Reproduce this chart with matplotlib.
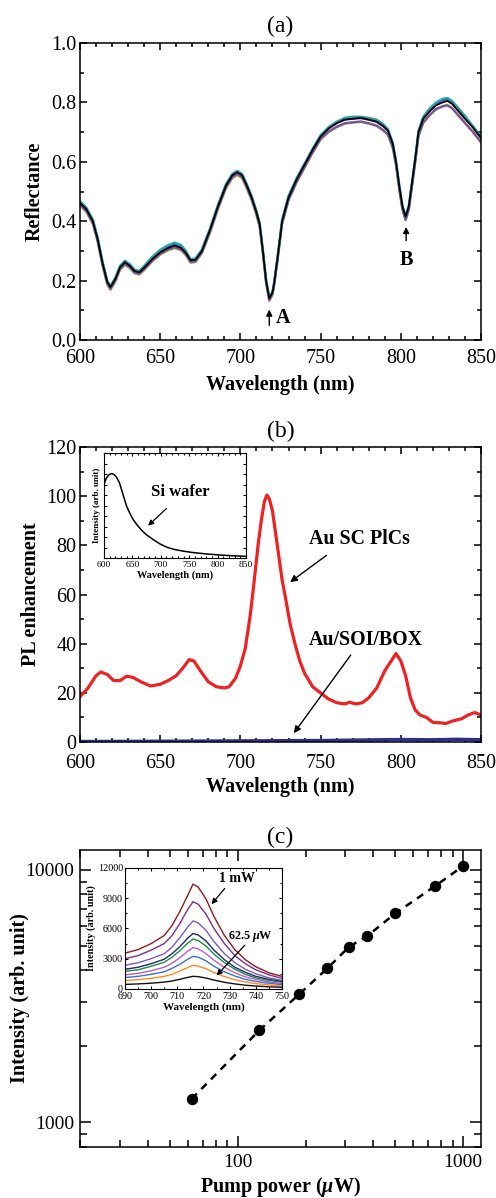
import numpy as np
import matplotlib
matplotlib.use("Agg")
from matplotlib import pyplot as plt
from matplotlib.ticker import MultipleLocator, LogLocator, NullFormatter, FixedLocator, FormatStrFormatter

plt.rcParams['font.family'] = ['Liberation Serif', 'DejaVu Serif']
plt.rcParams['mathtext.fontset'] = 'custom'
plt.rcParams['mathtext.it'] = 'Liberation Serif:bold:italic'
plt.rcParams['mathtext.rm'] = 'Liberation Serif:bold'

# ---- (a) reflectance spectra ----
wl_a = [600, 604, 608, 611, 614, 617, 619, 622, 625, 628, 631, 634, 637, 640, 645, 650, 655, 659, 663, 666,
        669, 672, 676, 681, 686, 691, 695, 698, 701, 704, 707, 710, 712, 714, 716, 718, 720, 721, 723, 726,
        730, 735, 740, 745, 750, 755, 760, 765, 770, 775, 780, 785, 789, 792, 795, 797, 799, 801, 803, 805,
        807, 809, 811, 814, 818, 822, 826, 829, 832, 836, 840, 845, 850]
refl_black = [.462, .44, .40, .34, .26, .195, .178, .205, .245, .262, .25, .232, .228, .243, .272, .295, .31, .318, .31, .293,
              .268, .27, .30, .37, .45, .52, .555, .565, .555, .52, .48, .43, .39, .30, .20, .14, .16, .19, .27, .40,
              .48, .54, .59, .64, .685, .712, .73, .742, .745, .748, .742, .735, .72, .705, .66, .60, .52, .45, .415, .45,
              .53, .61, .70, .745, .77, .79, .80, .805, .795, .77, .745, .715, .68]
refl_teal = [.468, .446, .406, .346, .266, .2, .182, .21, .25, .267, .256, .237, .233, .25, .28, .304, .32, .328, .32, .3,
             .272, .275, .305, .375, .455, .525, .56, .57, .56, .525, .485, .435, .395, .305, .205, .143, .163, .194, .275, .405,
             .485, .545, .594, .644, .69, .717, .735, .748, .752, .752, .748, .742, .727, .71, .664, .604, .524, .454, .418, .454,
             .534, .614, .705, .752, .78, .8, .812, .815, .805, .78, .755, .72, .685]
refl_purple = [.456, .434, .394, .334, .254, .19, .172, .2, .24, .256, .245, .227, .223, .238, .267, .29, .305, .312, .305, .288,
               .263, .265, .295, .364, .444, .514, .549, .559, .549, .514, .474, .424, .384, .294, .195, .135, .155, .185, .264, .393,
               .472, .532, .582, .632, .677, .702, .718, .73, .733, .736, .73, .722, .707, .692, .648, .59, .51, .44, .405, .44,
               .52, .6, .688, .733, .758, .778, .786, .79, .78, .755, .73, .7, .665]
refl_olive = [.452, .43, .39, .33, .25, .186, .169, .196, .236, .253, .242, .224, .22, .235, .264, .287, .302, .309, .302, .285,
              .26, .262, .292, .36, .44, .51, .545, .555, .545, .51, .47, .42, .38, .29, .19, .131, .151, .181, .26, .39,
              .47, .53, .58, .63, .675, .7, .716, .728, .732, .734, .728, .72, .705, .69, .646, .588, .508, .438, .403, .438,
              .518, .598, .686, .73, .756, .776, .788, .792, .782, .757, .732, .702, .667]
refl_blue = [.464, .442, .402, .342, .262, .197, .18, .207, .247, .264, .252, .234, .23, .247, .276, .3, .316, .323, .315, .297,
             .27, .272, .302, .372, .452, .522, .557, .567, .557, .522, .482, .432, .392, .302, .202, .142, .162, .192, .272, .402,
             .482, .542, .592, .642, .687, .714, .73, .742, .745, .747, .742, .735, .72, .705, .66, .6, .52, .45, .415, .45,
             .53, .61, .7, .748, .775, .795, .808, .81, .8, .775, .75, .718, .682]

# ---- (b) PL enhancement ----
wl_b = [600, 605, 610, 613, 617, 621, 625, 629, 633, 638, 644, 650, 655, 660, 664, 668, 671, 675, 680, 685,
        690, 693, 697, 700, 703, 706, 708, 711, 713, 715, 716.5, 718, 720, 723, 726, 728, 731, 734, 737, 740,
        745, 750, 755, 760, 765, 768, 772, 776, 780, 785, 790, 794, 797, 800, 803, 806, 809, 812, 816, 820,
        825, 828, 832, 835, 838, 842, 846, 850]
pl_au_sc = [18.5, 22, 27, 28.5, 27.5, 25, 25, 26.8, 26.3, 24.5, 22.8, 23.5, 25, 27, 30, 33.5, 33, 29, 24.5, 22.5,
            22, 22.5, 26, 31, 38, 51, 62, 80, 90, 98, 100.5, 99, 94, 80, 66, 59, 48, 40, 33, 28,
            22.5, 20, 17.5, 16, 15.5, 16.2, 15.5, 16, 18, 22, 29, 33, 36, 33, 27, 18, 13, 11, 10, 8,
            7.8, 7.5, 8.5, 9, 9.5, 11, 12, 11]
wl_box = [600, 650, 700, 750, 800, 820, 835, 850]
pl_box = [0.2, 0.3, 0.45, 0.6, 1.0, 0.9, 1.1, 0.9]

si_wl = [600, 604, 608, 613, 618, 622, 627, 631, 636, 640, 646, 652, 659, 667, 675, 683, 691, 700, 712, 725,
         740, 757, 778, 800, 825, 850]
si_int = [0.70, 0.76, 0.79, 0.805, 0.795, 0.77, 0.72, 0.65, 0.56, 0.49, 0.42, 0.36, 0.31, 0.26, 0.22, 0.19, 0.16, 0.13, 0.10, 0.08,
          0.065, 0.052, 0.04, 0.03, 0.022, 0.016]

# ---- (c) pump power dependence ----
power = [62.5, 125, 187.5, 250, 312.5, 375, 500, 750, 1000]
intensity = [1240, 2320, 3220, 4080, 4970, 5470, 6730, 8630, 10370]

wl_c = [690, 695, 700, 705, 708, 711, 714, 716, 718, 721, 724, 728, 732, 736, 740, 745, 750]
spec_1000 = [3550, 3900, 4500, 5300, 6300, 7700, 9300, 10400, 10100, 8900, 7200, 5300, 3900, 2900, 2200, 1600, 1250]
spec_750 = [3000, 3300, 3850, 4500, 5300, 6500, 7900, 8650, 8400, 7400, 6000, 4500, 3300, 2500, 1900, 1400, 1050]
spec_500 = [2350, 2600, 3000, 3500, 4150, 5100, 6150, 6750, 6550, 5800, 4700, 3500, 2600, 1950, 1500, 1100, 850]
spec_375 = [1950, 2150, 2500, 2950, 3500, 4200, 5050, 5500, 5350, 4750, 3850, 2900, 2150, 1650, 1250, 950, 750]
spec_312 = [1750, 1900, 2250, 2650, 3150, 3800, 4550, 4950, 4800, 4250, 3450, 2600, 1950, 1450, 1100, 850, 650]
spec_250 = [1400, 1550, 1800, 2150, 2550, 3100, 3750, 4100, 3980, 3500, 2850, 2150, 1600, 1200, 950, 700, 550]
spec_187 = [1130, 1250, 1450, 1700, 2050, 2450, 2950, 3230, 3150, 2780, 2250, 1700, 1280, 950, 750, 560, 430]
spec_125 = [830, 920, 1050, 1250, 1450, 1780, 2130, 2330, 2270, 2000, 1620, 1230, 920, 690, 530, 400, 300]
spec_62 = [450, 500, 570, 680, 790, 960, 1150, 1250, 1220, 1080, 880, 660, 500, 370, 290, 210, 160]
spec_colors = ['#8b1c1c', '#7d2e8e', '#7a5cc4', '#1f2a6b', '#1e8a48', '#c25bc2', '#3c6fd2', '#ff8a1a', '#111111']

TICK = 14.5
LAB = 14.5
TITLE = 17


def style_axes(ax, major=1.1, size=TICK, ml=5, mn=3, xpad=6.5, ypad=2.5):
    ax.tick_params(which='both', direction='in', top=True, right=True, labelsize=size, width=major)
    ax.tick_params(which='major', length=ml)
    ax.tick_params(which='minor', length=mn)
    ax.tick_params(axis='x', pad=xpad)
    ax.tick_params(axis='y', pad=ypad)
    for s in ax.spines.values():
        s.set_linewidth(major)


fig = plt.figure(figsize=(4.96, 11.98), dpi=100)

# (a)
ax1 = fig.add_axes([0.1613, 0.7162, 0.8085, 0.2479])
for vals, c in zip([refl_olive, refl_purple, refl_blue, refl_teal],
                   ['#9ab33c', '#7d4fa3', '#3f5cc0', '#2aa3a8']):
    ax1.plot(wl_a, vals, color=c, lw=1.6)
ax1.plot(wl_a, refl_black, color='black', lw=1.3)
ax1.set_xlim(600, 850)
ax1.set_ylim(0, 1.0)
ax1.xaxis.set_major_locator(MultipleLocator(50))
ax1.xaxis.set_minor_locator(MultipleLocator(10))
ax1.yaxis.set_major_locator(MultipleLocator(0.2))
ax1.yaxis.set_minor_locator(MultipleLocator(0.1))
ax1.yaxis.set_major_formatter(FormatStrFormatter('%.1f'))
style_axes(ax1)
ax1.set_xlabel('Wavelength (nm)', fontsize=LAB, fontweight='bold', labelpad=5)
ax1.set_ylabel('Reflectance', fontsize=LAB, fontweight='bold', labelpad=5)
ax1.set_title('(a)', fontsize=TITLE, pad=8)
ax1.annotate('', xy=(718, 0.112), xytext=(718, 0.04),
             arrowprops=dict(arrowstyle='-|>', color='black', lw=1, mutation_scale=9))
ax1.text(722, 0.075, 'A', fontsize=14.5, fontweight='bold', va='center')
ax1.annotate('', xy=(803.3, 0.39), xytext=(803.3, 0.325),
             arrowprops=dict(arrowstyle='-|>', color='black', lw=1, mutation_scale=9))
ax1.text(803.6, 0.27, 'B', fontsize=14.5, fontweight='bold', va='center', ha='center')

# (b)
ax2 = fig.add_axes([0.1613, 0.3806, 0.8085, 0.2462])
ax2.plot(wl_box, pl_box, color='#2b2f8f', lw=2.5)
ax2.plot(wl_b, pl_au_sc, color='#ee2222', lw=2.3)
ax2.set_xlim(600, 850)
ax2.set_ylim(0, 120)
ax2.xaxis.set_major_locator(MultipleLocator(50))
ax2.xaxis.set_minor_locator(MultipleLocator(10))
ax2.yaxis.set_major_locator(MultipleLocator(20))
ax2.yaxis.set_minor_locator(MultipleLocator(10))
style_axes(ax2, xpad=8.5)
ax2.set_xlabel('Wavelength (nm)', fontsize=LAB, fontweight='bold', labelpad=3)
ax2.set_ylabel('PL enhancement', fontsize=LAB, fontweight='bold', labelpad=4)
ax2.set_title('(b)', fontsize=TITLE, pad=7)
ax2.text(742.7, 82.7, 'Au SC PlCs', fontsize=14.3, fontweight='bold', va='center')
ax2.annotate('', xy=(729.6, 64.4), xytext=(755, 76.6),
             arrowprops=dict(arrowstyle='-|>', color='black', lw=1, mutation_scale=10))
ax2.text(742.7, 41.4, 'Au/SOI/BOX', fontsize=14.3, fontweight='bold', va='center')
ax2.annotate('', xy=(732.3, 2.7), xytext=(769.8, 36.3),
             arrowprops=dict(arrowstyle='-|>', color='black', lw=1, mutation_scale=10))

ins_b = fig.add_axes([0.2097, 0.5342, 0.2863, 0.0876])
ins_b.plot(si_wl, si_int, color='black', lw=1.1)
ins_b.set_xlim(600, 850)
ins_b.set_ylim(0, 1)
ins_b.xaxis.set_major_locator(MultipleLocator(50))
ins_b.xaxis.set_minor_locator(MultipleLocator(10))
ins_b.yaxis.set_major_locator(MultipleLocator(0.1))
ins_b.yaxis.set_major_formatter(NullFormatter())
style_axes(ins_b, major=0.8, size=6.8, ml=2.5, mn=1.5, xpad=2, ypad=1.5)
ins_b.set_xlabel('Wavelength (nm)', fontsize=7.4, fontweight='bold', labelpad=1)
ins_b.set_ylabel('Intensity (arb. unit)', fontsize=6.5, fontweight='bold', labelpad=1)
ins_b.text(734, 0.63, 'Si wafer', fontsize=12, fontweight='bold', ha='center', va='center')
ins_b.annotate('', xy=(674, 0.29), xytext=(713.5, 0.49),
               arrowprops=dict(arrowstyle='-|>', color='black', lw=0.9, mutation_scale=8))

# (c)
ax3 = fig.add_axes([0.1613, 0.0426, 0.8085, 0.2479])
ax3.plot(power, intensity, linestyle=(0, (3, 2.5)), color='black', lw=1.8,
         marker='o', ms=7.2, markerfacecolor='black')
ax3.set_xscale('log')
ax3.set_yscale('log')
ax3.set_xlim(20, 1200)
ax3.set_ylim(800, 12000)
ax3.xaxis.set_major_locator(FixedLocator([100, 1000]))
ax3.xaxis.set_major_formatter(FormatStrFormatter('%d'))
ax3.xaxis.set_minor_locator(LogLocator(base=10, subs=np.arange(2, 10)))
ax3.xaxis.set_minor_formatter(NullFormatter())
ax3.yaxis.set_major_locator(FixedLocator([1000, 10000]))
ax3.yaxis.set_major_formatter(FormatStrFormatter('%d'))
ax3.yaxis.set_minor_locator(LogLocator(base=10, subs=np.arange(2, 10)))
ax3.yaxis.set_minor_formatter(NullFormatter())
style_axes(ax3, ml=8, mn=5, size=14, xpad=5, ypad=4)
ax3.set_xlabel(r'Pump power ($\mu$W)', fontsize=LAB, fontweight='bold', labelpad=3)
ax3.set_ylabel('Intensity (arb. unit)', fontsize=LAB, fontweight='bold')
ax3.yaxis.set_label_coords(-0.125, 0.5)
ax3.set_title('(c)', fontsize=TITLE, pad=5)

ins_c = fig.add_axes([0.2520, 0.1745, 0.3165, 0.1010])
for vals, c in zip([spec_1000, spec_750, spec_500, spec_375, spec_312, spec_250, spec_187, spec_125, spec_62],
                   spec_colors):
    ins_c.plot(wl_c, vals, color=c, lw=1.0)
ins_c.set_xlim(690, 750)
ins_c.set_ylim(0, 12000)
ins_c.xaxis.set_major_locator(MultipleLocator(10))
ins_c.xaxis.set_minor_locator(MultipleLocator(5))
ins_c.yaxis.set_major_locator(MultipleLocator(3000))
ins_c.yaxis.set_minor_locator(MultipleLocator(1500))
style_axes(ins_c, major=0.8, size=7.3, ml=2.5, mn=1.5, xpad=2.5, ypad=1.5)
ins_c.set_xlabel('Wavelength (nm)', fontsize=8, fontweight='bold', labelpad=1)
ins_c.set_ylabel('Intensity (arb. unit)', fontsize=7.3, fontweight='bold', labelpad=1)
ins_c.text(732.7, 11000, '1 mW', fontsize=10, fontweight='bold', ha='center', va='center')
ins_c.annotate('', xy=(722.4, 8190), xytext=(728.8, 10180),
               arrowprops=dict(arrowstyle='-|>', color='black', lw=0.9, mutation_scale=8))
ins_c.text(737.8, 5200, r'62.5 $\mu$W', fontsize=8.7, fontweight='bold', ha='center', va='center')
ins_c.annotate('', xy=(724.3, 1130), xytext=(736.5, 4540),
               arrowprops=dict(arrowstyle='-|>', color='black', lw=0.9, mutation_scale=8))

fig.savefig('out.png', dpi=100)
